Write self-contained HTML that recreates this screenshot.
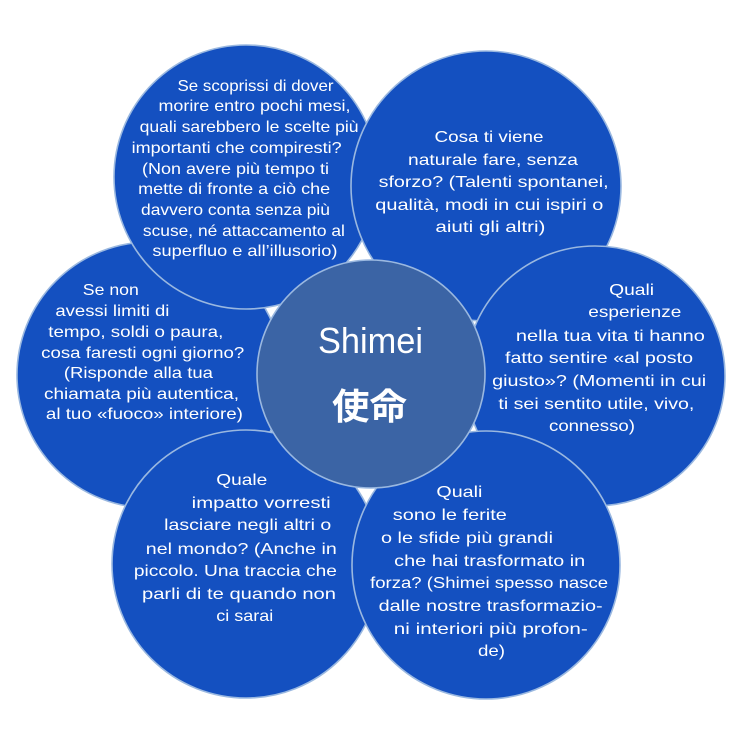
<!DOCTYPE html>
<html><head><meta charset="utf-8"><style>
html,body{margin:0;padding:0;background:#fff;}
svg{display:block;}
text{font-family:"Liberation Sans","Noto Sans CJK JP",sans-serif;fill:#fff;font-size:16px;}
</style></head><body>
<svg width="738" height="740" viewBox="0 0 738 740" xmlns="http://www.w3.org/2000/svg">
<g fill="#1450c0" stroke="#9ab8e0" stroke-width="1.6">
<circle cx="150" cy="375" r="133"/>
<circle cx="246" cy="564" r="134"/>
<circle cx="246" cy="177" r="132"/>
<circle cx="486" cy="186" r="135"/>
<circle cx="595" cy="376" r="130"/>
<circle cx="486" cy="565" r="134"/>
</g>
<circle cx="371" cy="374" r="114" fill="#3b64a5" stroke="#9ab8e0" stroke-width="1.6"/>
<g lengthAdjust="spacingAndGlyphs">
<text x="177.5" y="91" textLength="156" lengthAdjust="spacingAndGlyphs">Se scoprissi di dover</text>
<text x="158.5" y="111" textLength="192" lengthAdjust="spacingAndGlyphs">morire entro pochi mesi,</text>
<text x="139.6" y="132" textLength="219" lengthAdjust="spacingAndGlyphs">quali sarebbero le scelte più</text>
<text x="131.6" y="153" textLength="210" lengthAdjust="spacingAndGlyphs">importanti che compiresti?</text>
<text x="142" y="174" textLength="187" lengthAdjust="spacingAndGlyphs">(Non avere più tempo ti</text>
<text x="138.2" y="194" textLength="192" lengthAdjust="spacingAndGlyphs">mette di fronte a ciò che</text>
<text x="141" y="215" textLength="189" lengthAdjust="spacingAndGlyphs">davvero conta senza più</text>
<text x="142.9" y="236" textLength="202" lengthAdjust="spacingAndGlyphs">scuse, né attaccamento al</text>
<text x="152.4" y="256" textLength="185" lengthAdjust="spacingAndGlyphs">superfluo e all’illusorio)</text>

<text x="434.5" y="142" textLength="109" lengthAdjust="spacingAndGlyphs">Cosa ti viene</text>
<text x="408" y="165" textLength="170" lengthAdjust="spacingAndGlyphs">naturale fare, senza</text>
<text x="378.6" y="187" textLength="230" lengthAdjust="spacingAndGlyphs">sforzo? (Talenti spontanei,</text>
<text x="375.3" y="210" textLength="228" lengthAdjust="spacingAndGlyphs">qualità, modi in cui ispiri o</text>
<text x="435.4" y="232" textLength="110" lengthAdjust="spacingAndGlyphs">aiuti gli altri)</text>

<text x="82.8" y="295" textLength="56" lengthAdjust="spacingAndGlyphs">Se non</text>
<text x="55.4" y="316" textLength="114" lengthAdjust="spacingAndGlyphs">avessi limiti di</text>
<text x="48.3" y="337" textLength="175" lengthAdjust="spacingAndGlyphs">tempo, soldi o paura,</text>
<text x="41.2" y="358" textLength="203" lengthAdjust="spacingAndGlyphs">cosa faresti ogni giorno?</text>
<text x="63.9" y="378" textLength="149" lengthAdjust="spacingAndGlyphs">(Risponde alla tua</text>
<text x="44" y="399" textLength="195" lengthAdjust="spacingAndGlyphs">chiamata più autentica,</text>
<text x="45.9" y="419" textLength="197" lengthAdjust="spacingAndGlyphs">al tuo «fuoco» interiore)</text>

<text x="609.1" y="295" textLength="45" lengthAdjust="spacingAndGlyphs">Quali</text>
<text x="588.3" y="317" textLength="93" lengthAdjust="spacingAndGlyphs">esperienze</text>
<text x="515.9" y="341" textLength="189" lengthAdjust="spacingAndGlyphs">nella tua vita ti hanno</text>
<text x="505" y="363" textLength="188" lengthAdjust="spacingAndGlyphs">fatto sentire «al posto</text>
<text x="492.2" y="386" textLength="214" lengthAdjust="spacingAndGlyphs">giusto»? (Momenti in cui</text>
<text x="498.4" y="409" textLength="196" lengthAdjust="spacingAndGlyphs">ti sei sentito utile, vivo,</text>
<text x="549" y="431" textLength="86" lengthAdjust="spacingAndGlyphs">connesso)</text>

<text x="216.3" y="485" textLength="51" lengthAdjust="spacingAndGlyphs">Quale</text>
<text x="191.7" y="508" textLength="139" lengthAdjust="spacingAndGlyphs">impatto vorresti</text>
<text x="164.2" y="530" textLength="167" lengthAdjust="spacingAndGlyphs">lasciare negli altri o</text>
<text x="145.8" y="554" textLength="191" lengthAdjust="spacingAndGlyphs">nel mondo? (Anche in</text>
<text x="133.9" y="576" textLength="203" lengthAdjust="spacingAndGlyphs">piccolo. Una traccia che</text>
<text x="142" y="599" textLength="194" lengthAdjust="spacingAndGlyphs">parli di te quando non</text>
<text x="216.3" y="621" textLength="57" lengthAdjust="spacingAndGlyphs">ci sarai</text>

<text x="436.4" y="497" textLength="46" lengthAdjust="spacingAndGlyphs">Quali</text>
<text x="392.8" y="520" textLength="114" lengthAdjust="spacingAndGlyphs">sono le ferite</text>
<text x="381" y="543" textLength="172" lengthAdjust="spacingAndGlyphs">o le sfide più grandi</text>
<text x="394.2" y="566" textLength="191" lengthAdjust="spacingAndGlyphs">che hai trasformato in</text>
<text x="370.1" y="588" textLength="238" lengthAdjust="spacingAndGlyphs">forza? (Shimei spesso nasce</text>
<text x="378.6" y="611" textLength="224" lengthAdjust="spacingAndGlyphs">dalle nostre trasformazio-</text>
<text x="393.8" y="634" textLength="194" lengthAdjust="spacingAndGlyphs">ni interiori più profon-</text>
<text x="478" y="656" textLength="27" lengthAdjust="spacingAndGlyphs">de)</text>

<text x="318" y="353" style="font-size:36px" textLength="105" lengthAdjust="spacingAndGlyphs">Shimei</text>
<text x="332" y="419" style="font-size:36px;font-weight:bold" textLength="75" lengthAdjust="spacingAndGlyphs">使命</text>
</g>
</svg>
</body></html>
